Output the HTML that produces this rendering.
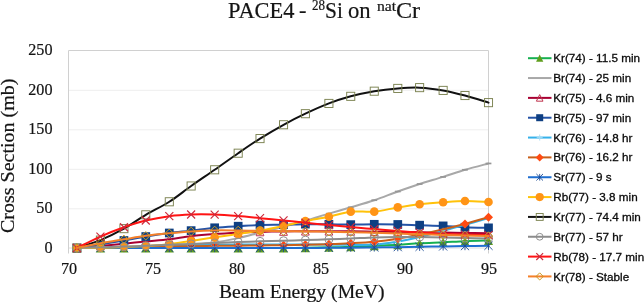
<!DOCTYPE html>
<html><head><meta charset="utf-8"><title>PACE4 - 28Si on natCr</title>
<style>
html,body{margin:0;padding:0;background:#fff;}
body{width:644px;height:305px;overflow:hidden;position:relative;font-family:"Liberation Serif",serif;color:#141414;-webkit-text-stroke:0.2px #141414;}
#c{position:absolute;left:0;top:0;width:644px;height:305px;overflow:hidden;will-change:transform;}
.ts{position:absolute;line-height:26px;height:26px;white-space:nowrap;transform-origin:0 0;}
.yt{position:absolute;left:0;width:52.5px;text-align:right;font-size:17px;line-height:19px;height:19px;transform:scaleX(0.95);transform-origin:100% 50%;}
.xt{position:absolute;top:258.5px;width:40px;text-align:center;font-size:17px;line-height:19px;transform:scaleX(0.95);transform-origin:50% 50%;}
.xl{position:absolute;left:219px;top:282px;font-size:18px;line-height:21px;white-space:nowrap;transform-origin:0 0;transform:scaleX(1.092);}
.yl{position:absolute;left:-2.2px;top:233.1px;font-size:18px;line-height:21px;white-space:nowrap;transform-origin:0 0;transform:rotate(-90deg) scaleX(1.111);}
.lg{position:absolute;left:553.2px;font-family:"Liberation Sans",sans-serif;font-size:11.7px;line-height:15px;white-space:nowrap;color:#0a0a0a;-webkit-text-stroke:0.3px #0a0a0a;transform-origin:0 50%;}
</style></head><body><div id="c">
<svg width="644" height="305" viewBox="0 0 644 305" style="position:absolute;left:0;top:0">
<line x1="68.5" x2="488.5" y1="208.8" y2="208.8" stroke="#eeeeee" stroke-width="1"/>
<line x1="68.5" x2="488.5" y1="169.3" y2="169.3" stroke="#eeeeee" stroke-width="1"/>
<line x1="68.5" x2="488.5" y1="129.8" y2="129.8" stroke="#eeeeee" stroke-width="1"/>
<line x1="68.5" x2="488.5" y1="90.3" y2="90.3" stroke="#eeeeee" stroke-width="1"/>
<line x1="68.5" x2="488.5" y1="248.0" y2="248.0" stroke="#dcdcdc" stroke-width="1"/>
<path d="M68.5,253.5 V50.5 H488.5 V253.5" fill="none" stroke="#d0d0d0" stroke-width="1"/>
<path d="M76.90,248.00 C80.82,248.00 92.58,248.00 100.42,248.00 C108.26,248.00 116.38,248.00 123.94,248.00 C131.50,248.00 138.22,248.00 145.78,248.00 C153.34,248.00 161.74,248.00 169.30,248.00 C176.86,248.00 183.58,248.00 191.14,248.00 C198.70,248.00 206.82,248.00 214.66,248.00 C222.50,248.00 230.62,248.00 238.18,248.00 C245.74,248.00 252.46,248.00 260.02,248.00 C267.58,248.00 275.98,248.04 283.54,248.00 C291.10,247.96 297.82,247.87 305.38,247.76 C312.94,247.66 321.34,247.53 328.90,247.37 C336.46,247.21 343.18,247.07 350.74,246.81 C358.30,246.56 366.42,246.20 374.26,245.87 C382.10,245.54 390.22,245.27 397.78,244.84 C405.34,244.41 412.06,243.69 419.62,243.26 C427.18,242.83 435.58,242.59 443.14,242.23 C450.70,241.88 457.42,241.42 464.98,241.13 C472.54,240.84 484.58,240.60 488.50,240.50" fill="none" stroke="#16b050" stroke-width="2" stroke-linejoin="round" stroke-linecap="round"/>
<path d="M76.90,243.50 L81.40,252.50 L72.40,252.50 Z" fill="#5f9e1e"/>
<path d="M100.42,243.50 L104.92,252.50 L95.92,252.50 Z" fill="#5f9e1e"/>
<path d="M123.94,243.50 L128.44,252.50 L119.44,252.50 Z" fill="#5f9e1e"/>
<path d="M145.78,243.50 L150.28,252.50 L141.28,252.50 Z" fill="#5f9e1e"/>
<path d="M169.30,243.50 L173.80,252.50 L164.80,252.50 Z" fill="#5f9e1e"/>
<path d="M191.14,243.50 L195.64,252.50 L186.64,252.50 Z" fill="#5f9e1e"/>
<path d="M214.66,243.50 L219.16,252.50 L210.16,252.50 Z" fill="#5f9e1e"/>
<path d="M238.18,243.50 L242.68,252.50 L233.68,252.50 Z" fill="#5f9e1e"/>
<path d="M260.02,243.50 L264.52,252.50 L255.52,252.50 Z" fill="#5f9e1e"/>
<path d="M283.54,243.50 L288.04,252.50 L279.04,252.50 Z" fill="#5f9e1e"/>
<path d="M305.38,243.26 L309.88,252.26 L300.88,252.26 Z" fill="#5f9e1e"/>
<path d="M328.90,242.87 L333.40,251.87 L324.40,251.87 Z" fill="#5f9e1e"/>
<path d="M350.74,242.31 L355.24,251.31 L346.24,251.31 Z" fill="#5f9e1e"/>
<path d="M374.26,241.37 L378.76,250.37 L369.76,250.37 Z" fill="#5f9e1e"/>
<path d="M397.78,240.34 L402.28,249.34 L393.28,249.34 Z" fill="#5f9e1e"/>
<path d="M419.62,238.76 L424.12,247.76 L415.12,247.76 Z" fill="#5f9e1e"/>
<path d="M443.14,237.73 L447.64,246.73 L438.64,246.73 Z" fill="#5f9e1e"/>
<path d="M464.98,236.63 L469.48,245.63 L460.48,245.63 Z" fill="#5f9e1e"/>
<path d="M488.50,236.00 L493.00,245.00 L484.00,245.00 Z" fill="#5f9e1e"/>
<path d="M76.90,248.00 C80.82,248.00 92.58,248.00 100.42,248.00 C108.26,248.00 116.38,248.04 123.94,248.00 C131.50,247.96 138.22,247.96 145.78,247.76 C153.34,247.57 161.74,247.24 169.30,246.81 C176.86,246.39 183.58,245.96 191.14,245.24 C198.70,244.51 206.82,243.66 214.66,242.47 C222.50,241.28 230.62,239.77 238.18,238.12 C245.74,236.48 252.46,234.50 260.02,232.59 C267.58,230.69 275.98,228.65 283.54,226.67 C291.10,224.70 297.82,222.92 305.38,220.75 C312.94,218.57 321.34,215.87 328.90,213.63 C336.46,211.40 343.18,209.55 350.74,207.31 C358.30,205.08 366.42,202.84 374.26,200.20 C382.10,197.57 390.22,194.21 397.78,191.51 C405.34,188.82 412.06,186.45 419.62,184.01 C427.18,181.57 435.58,179.27 443.14,176.90 C450.70,174.53 457.42,172.03 464.98,169.79 C472.54,167.55 484.58,164.52 488.50,163.47" fill="none" stroke="#a8a8a8" stroke-width="2" stroke-linejoin="round" stroke-linecap="round"/>
<path d="M74.00,248.00 H79.80" stroke="#969696" stroke-width="1.7" fill="none"/>
<path d="M97.52,248.00 H103.32" stroke="#969696" stroke-width="1.7" fill="none"/>
<path d="M121.04,248.00 H126.84" stroke="#969696" stroke-width="1.7" fill="none"/>
<path d="M142.88,247.76 H148.68" stroke="#969696" stroke-width="1.7" fill="none"/>
<path d="M166.40,246.81 H172.20" stroke="#969696" stroke-width="1.7" fill="none"/>
<path d="M188.24,245.24 H194.04" stroke="#969696" stroke-width="1.7" fill="none"/>
<path d="M211.76,242.47 H217.56" stroke="#969696" stroke-width="1.7" fill="none"/>
<path d="M235.28,238.12 H241.08" stroke="#969696" stroke-width="1.7" fill="none"/>
<path d="M257.12,232.59 H262.92" stroke="#969696" stroke-width="1.7" fill="none"/>
<path d="M280.64,226.67 H286.44" stroke="#969696" stroke-width="1.7" fill="none"/>
<path d="M302.48,220.75 H308.28" stroke="#969696" stroke-width="1.7" fill="none"/>
<path d="M326.00,213.63 H331.80" stroke="#969696" stroke-width="1.7" fill="none"/>
<path d="M347.84,207.31 H353.64" stroke="#969696" stroke-width="1.7" fill="none"/>
<path d="M371.36,200.20 H377.16" stroke="#969696" stroke-width="1.7" fill="none"/>
<path d="M394.88,191.51 H400.68" stroke="#969696" stroke-width="1.7" fill="none"/>
<path d="M416.72,184.01 H422.52" stroke="#969696" stroke-width="1.7" fill="none"/>
<path d="M440.24,176.90 H446.04" stroke="#969696" stroke-width="1.7" fill="none"/>
<path d="M462.08,169.79 H467.88" stroke="#969696" stroke-width="1.7" fill="none"/>
<path d="M485.60,163.47 H491.40" stroke="#969696" stroke-width="1.7" fill="none"/>
<path d="M76.90,248.00 C80.82,247.67 92.58,246.75 100.42,246.03 C108.26,245.30 116.38,244.42 123.94,243.66 C131.50,242.89 138.22,242.19 145.78,241.44 C153.34,240.69 161.74,240.03 169.30,239.15 C176.86,238.27 183.58,236.99 191.14,236.15 C198.70,235.31 206.82,234.66 214.66,234.10 C222.50,233.53 230.62,233.12 238.18,232.75 C245.74,232.38 252.46,232.11 260.02,231.88 C267.58,231.66 275.98,231.53 283.54,231.41 C291.10,231.29 297.82,231.21 305.38,231.17 C312.94,231.13 321.34,231.15 328.90,231.17 C336.46,231.20 343.18,231.25 350.74,231.33 C358.30,231.41 366.42,231.54 374.26,231.65 C382.10,231.75 390.22,231.86 397.78,231.96 C405.34,232.07 412.06,232.17 419.62,232.28 C427.18,232.38 435.58,232.49 443.14,232.59 C450.70,232.70 457.42,232.81 464.98,232.91 C472.54,233.02 484.58,233.17 488.50,233.23" fill="none" stroke="#a80032" stroke-width="2" stroke-linejoin="round" stroke-linecap="round"/>
<path d="M76.90,244.10 L80.80,251.90 L73.00,251.90 Z" fill="none" stroke="#c0344f" stroke-width="1"/>
<path d="M100.42,242.12 L104.32,249.93 L96.52,249.93 Z" fill="none" stroke="#c0344f" stroke-width="1"/>
<path d="M123.94,239.75 L127.84,247.56 L120.04,247.56 Z" fill="none" stroke="#c0344f" stroke-width="1"/>
<path d="M145.78,237.54 L149.68,245.34 L141.88,245.34 Z" fill="none" stroke="#c0344f" stroke-width="1"/>
<path d="M169.30,235.25 L173.20,243.05 L165.40,243.05 Z" fill="none" stroke="#c0344f" stroke-width="1"/>
<path d="M191.14,232.25 L195.04,240.05 L187.24,240.05 Z" fill="none" stroke="#c0344f" stroke-width="1"/>
<path d="M214.66,230.20 L218.56,238.00 L210.76,238.00 Z" fill="none" stroke="#c0344f" stroke-width="1"/>
<path d="M238.18,228.85 L242.08,236.65 L234.28,236.65 Z" fill="none" stroke="#c0344f" stroke-width="1"/>
<path d="M260.02,227.98 L263.92,235.78 L256.12,235.78 Z" fill="none" stroke="#c0344f" stroke-width="1"/>
<path d="M283.54,227.51 L287.44,235.31 L279.64,235.31 Z" fill="none" stroke="#c0344f" stroke-width="1"/>
<path d="M305.38,227.27 L309.28,235.07 L301.48,235.07 Z" fill="none" stroke="#c0344f" stroke-width="1"/>
<path d="M328.90,227.27 L332.80,235.07 L325.00,235.07 Z" fill="none" stroke="#c0344f" stroke-width="1"/>
<path d="M350.74,227.43 L354.64,235.23 L346.84,235.23 Z" fill="none" stroke="#c0344f" stroke-width="1"/>
<path d="M374.26,227.75 L378.16,235.55 L370.36,235.55 Z" fill="none" stroke="#c0344f" stroke-width="1"/>
<path d="M397.78,228.06 L401.68,235.86 L393.88,235.86 Z" fill="none" stroke="#c0344f" stroke-width="1"/>
<path d="M419.62,228.38 L423.52,236.18 L415.72,236.18 Z" fill="none" stroke="#c0344f" stroke-width="1"/>
<path d="M443.14,228.69 L447.04,236.50 L439.24,236.50 Z" fill="none" stroke="#c0344f" stroke-width="1"/>
<path d="M464.98,229.01 L468.88,236.81 L461.08,236.81 Z" fill="none" stroke="#c0344f" stroke-width="1"/>
<path d="M488.50,229.33 L492.40,237.13 L484.60,237.13 Z" fill="none" stroke="#c0344f" stroke-width="1"/>
<path d="M76.90,248.00 C80.82,247.41 92.58,245.70 100.42,244.44 C108.26,243.19 116.38,241.81 123.94,240.50 C131.50,239.18 138.22,237.80 145.78,236.54 C153.34,235.29 161.74,233.98 169.30,232.99 C176.86,232.00 183.58,231.49 191.14,230.62 C198.70,229.75 206.82,228.51 214.66,227.78 C222.50,227.04 230.62,226.64 238.18,226.20 C245.74,225.75 252.46,225.34 260.02,225.09 C267.58,224.84 275.98,224.85 283.54,224.69 C291.10,224.54 297.82,224.21 305.38,224.14 C312.94,224.08 321.34,224.22 328.90,224.30 C336.46,224.38 343.18,224.62 350.74,224.62 C358.30,224.62 366.42,224.33 374.26,224.30 C382.10,224.27 390.22,224.31 397.78,224.46 C405.34,224.60 412.06,224.93 419.62,225.17 C427.18,225.41 435.58,225.54 443.14,225.88 C450.70,226.22 457.42,226.89 464.98,227.22 C472.54,227.55 484.58,227.75 488.50,227.85" fill="none" stroke="#2453a6" stroke-width="2" stroke-linejoin="round" stroke-linecap="round"/>
<rect x="72.55" y="243.65" width="8.70" height="8.70" fill="#0e3f82"/>
<rect x="96.07" y="240.09" width="8.70" height="8.70" fill="#0e3f82"/>
<rect x="119.59" y="236.15" width="8.70" height="8.70" fill="#0e3f82"/>
<rect x="141.43" y="232.19" width="8.70" height="8.70" fill="#0e3f82"/>
<rect x="164.95" y="228.64" width="8.70" height="8.70" fill="#0e3f82"/>
<rect x="186.79" y="226.27" width="8.70" height="8.70" fill="#0e3f82"/>
<rect x="210.31" y="223.43" width="8.70" height="8.70" fill="#0e3f82"/>
<rect x="233.83" y="221.85" width="8.70" height="8.70" fill="#0e3f82"/>
<rect x="255.67" y="220.74" width="8.70" height="8.70" fill="#0e3f82"/>
<rect x="279.19" y="220.34" width="8.70" height="8.70" fill="#0e3f82"/>
<rect x="301.03" y="219.79" width="8.70" height="8.70" fill="#0e3f82"/>
<rect x="324.55" y="219.95" width="8.70" height="8.70" fill="#0e3f82"/>
<rect x="346.39" y="220.27" width="8.70" height="8.70" fill="#0e3f82"/>
<rect x="369.91" y="219.95" width="8.70" height="8.70" fill="#0e3f82"/>
<rect x="393.43" y="220.11" width="8.70" height="8.70" fill="#0e3f82"/>
<rect x="415.27" y="220.82" width="8.70" height="8.70" fill="#0e3f82"/>
<rect x="438.79" y="221.53" width="8.70" height="8.70" fill="#0e3f82"/>
<rect x="460.63" y="222.87" width="8.70" height="8.70" fill="#0e3f82"/>
<rect x="484.15" y="223.50" width="8.70" height="8.70" fill="#0e3f82"/>
<path d="M76.90,248.00 C80.82,247.93 92.58,247.76 100.42,247.60 C108.26,247.45 116.38,247.25 123.94,247.05 C131.50,246.85 138.22,246.63 145.78,246.42 C153.34,246.21 161.74,245.99 169.30,245.79 C176.86,245.59 183.58,245.39 191.14,245.24 C198.70,245.08 206.82,244.95 214.66,244.84 C222.50,244.73 230.62,244.67 238.18,244.60 C245.74,244.54 252.46,244.47 260.02,244.44 C267.58,244.42 275.98,244.44 283.54,244.44 C291.10,244.44 297.82,244.42 305.38,244.44 C312.94,244.47 321.34,244.54 328.90,244.60 C336.46,244.67 343.18,244.84 350.74,244.84 C358.30,244.84 366.42,245.17 374.26,244.60 C382.10,244.04 390.22,242.72 397.78,241.44 C405.34,240.17 412.06,238.68 419.62,236.94 C427.18,235.20 435.58,233.03 443.14,231.01 C450.70,229.00 457.42,227.00 464.98,224.85 C472.54,222.71 484.58,219.26 488.50,218.14" fill="none" stroke="#35b1ea" stroke-width="2" stroke-linejoin="round" stroke-linecap="round"/>
<path d="M73.70,248.00 H80.10 M76.90,244.80 V251.20" stroke="#a8dcf5" stroke-width="0.9" fill="none"/>
<path d="M97.22,247.60 H103.62 M100.42,244.41 V250.80" stroke="#a8dcf5" stroke-width="0.9" fill="none"/>
<path d="M120.74,247.05 H127.14 M123.94,243.85 V250.25" stroke="#a8dcf5" stroke-width="0.9" fill="none"/>
<path d="M142.58,246.42 H148.98 M145.78,243.22 V249.62" stroke="#a8dcf5" stroke-width="0.9" fill="none"/>
<path d="M166.10,245.79 H172.50 M169.30,242.59 V248.99" stroke="#a8dcf5" stroke-width="0.9" fill="none"/>
<path d="M187.94,245.24 H194.34 M191.14,242.04 V248.44" stroke="#a8dcf5" stroke-width="0.9" fill="none"/>
<path d="M211.46,244.84 H217.86 M214.66,241.64 V248.04" stroke="#a8dcf5" stroke-width="0.9" fill="none"/>
<path d="M234.98,244.60 H241.38 M238.18,241.40 V247.80" stroke="#a8dcf5" stroke-width="0.9" fill="none"/>
<path d="M256.82,244.44 H263.22 M260.02,241.25 V247.64" stroke="#a8dcf5" stroke-width="0.9" fill="none"/>
<path d="M280.34,244.44 H286.74 M283.54,241.25 V247.64" stroke="#a8dcf5" stroke-width="0.9" fill="none"/>
<path d="M302.18,244.44 H308.58 M305.38,241.25 V247.64" stroke="#a8dcf5" stroke-width="0.9" fill="none"/>
<path d="M325.70,244.60 H332.10 M328.90,241.40 V247.80" stroke="#a8dcf5" stroke-width="0.9" fill="none"/>
<path d="M347.54,244.84 H353.94 M350.74,241.64 V248.04" stroke="#a8dcf5" stroke-width="0.9" fill="none"/>
<path d="M371.06,244.60 H377.46 M374.26,241.40 V247.80" stroke="#a8dcf5" stroke-width="0.9" fill="none"/>
<path d="M394.58,241.44 H400.98 M397.78,238.24 V244.64" stroke="#a8dcf5" stroke-width="0.9" fill="none"/>
<path d="M416.42,236.94 H422.82 M419.62,233.74 V240.14" stroke="#a8dcf5" stroke-width="0.9" fill="none"/>
<path d="M439.94,231.01 H446.34 M443.14,227.81 V234.21" stroke="#a8dcf5" stroke-width="0.9" fill="none"/>
<path d="M461.78,224.85 H468.18 M464.98,221.65 V228.05" stroke="#a8dcf5" stroke-width="0.9" fill="none"/>
<path d="M485.30,218.14 H491.70 M488.50,214.94 V221.34" stroke="#a8dcf5" stroke-width="0.9" fill="none"/>
<path d="M76.90,248.00 C80.82,247.95 92.58,247.80 100.42,247.68 C108.26,247.57 116.38,247.42 123.94,247.29 C131.50,247.16 138.22,247.03 145.78,246.89 C153.34,246.76 161.74,246.62 169.30,246.50 C176.86,246.38 183.58,246.29 191.14,246.18 C198.70,246.08 206.82,245.96 214.66,245.87 C222.50,245.77 230.62,245.70 238.18,245.63 C245.74,245.56 252.46,245.54 260.02,245.47 C267.58,245.41 275.98,245.34 283.54,245.24 C291.10,245.13 297.82,245.01 305.38,244.84 C312.94,244.67 321.34,244.47 328.90,244.21 C336.46,243.94 343.18,243.68 350.74,243.26 C358.30,242.84 366.42,242.44 374.26,241.68 C382.10,240.92 390.22,239.86 397.78,238.68 C405.34,237.49 412.06,236.15 419.62,234.57 C427.18,232.99 435.58,230.98 443.14,229.20 C450.70,227.42 457.42,225.91 464.98,223.91 C472.54,221.90 484.58,218.31 488.50,217.19" fill="none" stroke="#c9601a" stroke-width="2" stroke-linejoin="round" stroke-linecap="round"/>
<path d="M76.90,243.50 L81.40,248.00 L76.90,252.50 L72.40,248.00 Z" fill="#ff4a12"/>
<path d="M100.42,243.18 L104.92,247.68 L100.42,252.18 L95.92,247.68 Z" fill="#ff4a12"/>
<path d="M123.94,242.79 L128.44,247.29 L123.94,251.79 L119.44,247.29 Z" fill="#ff4a12"/>
<path d="M145.78,242.39 L150.28,246.89 L145.78,251.39 L141.28,246.89 Z" fill="#ff4a12"/>
<path d="M169.30,242.00 L173.80,246.50 L169.30,251.00 L164.80,246.50 Z" fill="#ff4a12"/>
<path d="M191.14,241.68 L195.64,246.18 L191.14,250.68 L186.64,246.18 Z" fill="#ff4a12"/>
<path d="M214.66,241.37 L219.16,245.87 L214.66,250.37 L210.16,245.87 Z" fill="#ff4a12"/>
<path d="M238.18,241.13 L242.68,245.63 L238.18,250.13 L233.68,245.63 Z" fill="#ff4a12"/>
<path d="M260.02,240.97 L264.52,245.47 L260.02,249.97 L255.52,245.47 Z" fill="#ff4a12"/>
<path d="M283.54,240.74 L288.04,245.24 L283.54,249.74 L279.04,245.24 Z" fill="#ff4a12"/>
<path d="M305.38,240.34 L309.88,244.84 L305.38,249.34 L300.88,244.84 Z" fill="#ff4a12"/>
<path d="M328.90,239.71 L333.40,244.21 L328.90,248.71 L324.40,244.21 Z" fill="#ff4a12"/>
<path d="M350.74,238.76 L355.24,243.26 L350.74,247.76 L346.24,243.26 Z" fill="#ff4a12"/>
<path d="M374.26,237.18 L378.76,241.68 L374.26,246.18 L369.76,241.68 Z" fill="#ff4a12"/>
<path d="M397.78,234.18 L402.28,238.68 L397.78,243.18 L393.28,238.68 Z" fill="#ff4a12"/>
<path d="M419.62,230.07 L424.12,234.57 L419.62,239.07 L415.12,234.57 Z" fill="#ff4a12"/>
<path d="M464.98,219.41 L469.48,223.91 L464.98,228.41 L460.48,223.91 Z" fill="#ff4a12"/>
<path d="M488.50,212.69 L493.00,217.19 L488.50,221.69 L484.00,217.19 Z" fill="#ff4a12"/>
<path d="M76.90,248.00 C80.82,248.00 92.58,248.00 100.42,248.00 C108.26,248.00 116.38,248.00 123.94,248.00 C131.50,248.00 138.22,248.00 145.78,248.00 C153.34,248.00 161.74,248.00 169.30,248.00 C176.86,248.00 183.58,248.00 191.14,248.00 C198.70,248.00 206.82,248.00 214.66,248.00 C222.50,248.00 230.62,248.00 238.18,248.00 C245.74,248.00 252.46,248.00 260.02,248.00 C267.58,248.00 275.98,248.00 283.54,248.00 C291.10,248.00 297.82,248.03 305.38,248.00 C312.94,247.97 321.34,247.89 328.90,247.84 C336.46,247.79 343.18,247.75 350.74,247.68 C358.30,247.62 366.42,247.54 374.26,247.45 C382.10,247.35 390.22,247.24 397.78,247.13 C405.34,247.03 412.06,246.93 419.62,246.81 C427.18,246.70 435.58,246.54 443.14,246.42 C450.70,246.30 457.42,246.21 464.98,246.10 C472.54,246.00 484.58,245.84 488.50,245.79" fill="none" stroke="#1f6ed0" stroke-width="2" stroke-linejoin="round" stroke-linecap="round"/>
<path d="M72.80,243.90 L81.00,252.10 M72.80,252.10 L81.00,243.90 M76.90,243.90 V252.10" stroke="#1b4a94" stroke-width="0.9" fill="none"/>
<path d="M96.32,243.90 L104.52,252.10 M96.32,252.10 L104.52,243.90 M100.42,243.90 V252.10" stroke="#1b4a94" stroke-width="0.9" fill="none"/>
<path d="M119.84,243.90 L128.04,252.10 M119.84,252.10 L128.04,243.90 M123.94,243.90 V252.10" stroke="#1b4a94" stroke-width="0.9" fill="none"/>
<path d="M141.68,243.90 L149.88,252.10 M141.68,252.10 L149.88,243.90 M145.78,243.90 V252.10" stroke="#1b4a94" stroke-width="0.9" fill="none"/>
<path d="M165.20,243.90 L173.40,252.10 M165.20,252.10 L173.40,243.90 M169.30,243.90 V252.10" stroke="#1b4a94" stroke-width="0.9" fill="none"/>
<path d="M187.04,243.90 L195.24,252.10 M187.04,252.10 L195.24,243.90 M191.14,243.90 V252.10" stroke="#1b4a94" stroke-width="0.9" fill="none"/>
<path d="M210.56,243.90 L218.76,252.10 M210.56,252.10 L218.76,243.90 M214.66,243.90 V252.10" stroke="#1b4a94" stroke-width="0.9" fill="none"/>
<path d="M234.08,243.90 L242.28,252.10 M234.08,252.10 L242.28,243.90 M238.18,243.90 V252.10" stroke="#1b4a94" stroke-width="0.9" fill="none"/>
<path d="M255.92,243.90 L264.12,252.10 M255.92,252.10 L264.12,243.90 M260.02,243.90 V252.10" stroke="#1b4a94" stroke-width="0.9" fill="none"/>
<path d="M279.44,243.90 L287.64,252.10 M279.44,252.10 L287.64,243.90 M283.54,243.90 V252.10" stroke="#1b4a94" stroke-width="0.9" fill="none"/>
<path d="M301.28,243.90 L309.48,252.10 M301.28,252.10 L309.48,243.90 M305.38,243.90 V252.10" stroke="#1b4a94" stroke-width="0.9" fill="none"/>
<path d="M324.80,243.74 L333.00,251.94 M324.80,251.94 L333.00,243.74 M328.90,243.74 V251.94" stroke="#1b4a94" stroke-width="0.9" fill="none"/>
<path d="M346.64,243.58 L354.84,251.78 M346.64,251.78 L354.84,243.58 M350.74,243.58 V251.78" stroke="#1b4a94" stroke-width="0.9" fill="none"/>
<path d="M370.16,243.35 L378.36,251.55 M370.16,251.55 L378.36,243.35 M374.26,243.35 V251.55" stroke="#1b4a94" stroke-width="0.9" fill="none"/>
<path d="M393.68,243.03 L401.88,251.23 M393.68,251.23 L401.88,243.03 M397.78,243.03 V251.23" stroke="#1b4a94" stroke-width="0.9" fill="none"/>
<path d="M415.52,242.72 L423.72,250.91 M415.52,250.91 L423.72,242.72 M419.62,242.72 V250.91" stroke="#1b4a94" stroke-width="0.9" fill="none"/>
<path d="M439.04,242.32 L447.24,250.52 M439.04,250.52 L447.24,242.32 M443.14,242.32 V250.52" stroke="#1b4a94" stroke-width="0.9" fill="none"/>
<path d="M460.88,242.00 L469.08,250.20 M460.88,250.20 L469.08,242.00 M464.98,242.00 V250.20" stroke="#1b4a94" stroke-width="0.9" fill="none"/>
<path d="M484.40,241.69 L492.60,249.89 M484.40,249.89 L492.60,241.69 M488.50,241.69 V249.89" stroke="#1b4a94" stroke-width="0.9" fill="none"/>
<path d="M76.90,248.00 C80.82,247.96 92.58,247.92 100.42,247.76 C108.26,247.61 116.38,247.35 123.94,247.05 C131.50,246.75 138.22,246.42 145.78,245.95 C153.34,245.47 161.74,245.05 169.30,244.21 C176.86,243.37 183.58,242.04 191.14,240.89 C198.70,239.74 206.82,238.49 214.66,237.34 C222.50,236.18 230.62,235.06 238.18,233.94 C245.74,232.82 252.46,231.96 260.02,230.62 C267.58,229.28 275.98,227.49 283.54,225.88 C291.10,224.27 297.82,222.50 305.38,220.98 C312.94,219.47 321.34,218.35 328.90,216.80 C336.46,215.24 343.18,212.52 350.74,211.66 C358.30,210.80 366.42,212.37 374.26,211.66 C382.10,210.95 390.22,208.63 397.78,207.39 C405.34,206.16 412.06,205.10 419.62,204.23 C427.18,203.37 435.58,202.72 443.14,202.18 C450.70,201.64 457.42,201.02 464.98,201.00 C472.54,200.97 484.58,201.85 488.50,202.02" fill="none" stroke="#ffc20a" stroke-width="2" stroke-linejoin="round" stroke-linecap="round"/>
<circle cx="76.90" cy="248.00" r="4.30" fill="#ff9416"/>
<circle cx="100.42" cy="247.76" r="4.30" fill="#ff9416"/>
<circle cx="123.94" cy="247.05" r="4.30" fill="#ff9416"/>
<circle cx="145.78" cy="245.95" r="4.30" fill="#ff9416"/>
<circle cx="169.30" cy="244.21" r="4.30" fill="#ff9416"/>
<circle cx="191.14" cy="240.89" r="4.30" fill="#ff9416"/>
<circle cx="214.66" cy="237.34" r="4.30" fill="#ff9416"/>
<circle cx="238.18" cy="233.94" r="4.30" fill="#ff9416"/>
<circle cx="260.02" cy="230.62" r="4.30" fill="#ff9416"/>
<circle cx="283.54" cy="225.88" r="4.30" fill="#ff9416"/>
<circle cx="305.38" cy="220.98" r="4.30" fill="#ff9416"/>
<circle cx="328.90" cy="216.80" r="4.30" fill="#ff9416"/>
<circle cx="350.74" cy="211.66" r="4.30" fill="#ff9416"/>
<circle cx="374.26" cy="211.66" r="4.30" fill="#ff9416"/>
<circle cx="397.78" cy="207.39" r="4.30" fill="#ff9416"/>
<circle cx="419.62" cy="204.23" r="4.30" fill="#ff9416"/>
<circle cx="443.14" cy="202.18" r="4.30" fill="#ff9416"/>
<circle cx="464.98" cy="201.00" r="4.30" fill="#ff9416"/>
<circle cx="488.50" cy="202.02" r="4.30" fill="#ff9416"/>
<path d="M76.90,248.00 C80.82,246.68 92.58,243.33 100.42,240.10 C108.26,236.87 116.38,232.86 123.94,228.65 C131.50,224.43 138.22,219.30 145.78,214.82 C153.34,210.34 161.74,206.59 169.30,201.78 C176.86,196.98 183.58,191.32 191.14,185.99 C198.70,180.65 206.82,175.25 214.66,169.79 C222.50,164.33 230.62,158.40 238.18,153.20 C245.74,148.00 252.46,143.32 260.02,138.58 C267.58,133.84 275.98,128.91 283.54,124.76 C291.10,120.61 297.82,117.25 305.38,113.70 C312.94,110.14 321.34,106.33 328.90,103.43 C336.46,100.53 343.18,98.36 350.74,96.32 C358.30,94.28 366.42,92.50 374.26,91.19 C382.10,89.87 390.22,89.01 397.78,88.42 C405.34,87.83 412.06,87.30 419.62,87.63 C427.18,87.96 435.58,89.08 443.14,90.40 C450.70,91.71 457.42,93.49 464.98,95.53 C472.54,97.57 484.58,101.45 488.50,102.64" fill="none" stroke="#111111" stroke-width="2" stroke-linejoin="round" stroke-linecap="round"/>
<rect x="72.85" y="243.95" width="8.10" height="8.10" fill="none" stroke="#7b8250" stroke-width="0.95"/>
<rect x="96.37" y="236.05" width="8.10" height="8.10" fill="none" stroke="#7b8250" stroke-width="0.95"/>
<rect x="119.89" y="224.59" width="8.10" height="8.10" fill="none" stroke="#7b8250" stroke-width="0.95"/>
<rect x="141.73" y="210.77" width="8.10" height="8.10" fill="none" stroke="#7b8250" stroke-width="0.95"/>
<rect x="165.25" y="197.73" width="8.10" height="8.10" fill="none" stroke="#7b8250" stroke-width="0.95"/>
<rect x="187.09" y="181.94" width="8.10" height="8.10" fill="none" stroke="#7b8250" stroke-width="0.95"/>
<rect x="210.61" y="165.74" width="8.10" height="8.10" fill="none" stroke="#7b8250" stroke-width="0.95"/>
<rect x="234.13" y="149.15" width="8.10" height="8.10" fill="none" stroke="#7b8250" stroke-width="0.95"/>
<rect x="255.97" y="134.53" width="8.10" height="8.10" fill="none" stroke="#7b8250" stroke-width="0.95"/>
<rect x="279.49" y="120.71" width="8.10" height="8.10" fill="none" stroke="#7b8250" stroke-width="0.95"/>
<rect x="301.33" y="109.65" width="8.10" height="8.10" fill="none" stroke="#7b8250" stroke-width="0.95"/>
<rect x="324.85" y="99.38" width="8.10" height="8.10" fill="none" stroke="#7b8250" stroke-width="0.95"/>
<rect x="346.69" y="92.27" width="8.10" height="8.10" fill="none" stroke="#7b8250" stroke-width="0.95"/>
<rect x="370.21" y="87.14" width="8.10" height="8.10" fill="none" stroke="#7b8250" stroke-width="0.95"/>
<rect x="393.73" y="84.37" width="8.10" height="8.10" fill="none" stroke="#7b8250" stroke-width="0.95"/>
<rect x="415.57" y="83.58" width="8.10" height="8.10" fill="none" stroke="#7b8250" stroke-width="0.95"/>
<rect x="439.09" y="86.35" width="8.10" height="8.10" fill="none" stroke="#7b8250" stroke-width="0.95"/>
<rect x="460.93" y="91.48" width="8.10" height="8.10" fill="none" stroke="#7b8250" stroke-width="0.95"/>
<rect x="484.45" y="98.59" width="8.10" height="8.10" fill="none" stroke="#7b8250" stroke-width="0.95"/>
<path d="M76.90,248.00 C80.82,247.89 92.58,247.60 100.42,247.37 C108.26,247.13 116.38,246.84 123.94,246.58 C131.50,246.31 138.22,246.08 145.78,245.79 C153.34,245.50 161.74,245.16 169.30,244.84 C176.86,244.52 183.58,244.21 191.14,243.89 C198.70,243.58 206.82,243.25 214.66,242.94 C222.50,242.64 230.62,242.34 238.18,242.07 C245.74,241.81 252.46,241.59 260.02,241.36 C267.58,241.14 275.98,240.94 283.54,240.73 C291.10,240.52 297.82,240.34 305.38,240.10 C312.94,239.86 321.34,239.57 328.90,239.31 C336.46,239.05 343.18,238.82 350.74,238.52 C358.30,238.22 366.42,237.73 374.26,237.49 C382.10,237.26 390.22,237.16 397.78,237.10 C405.34,237.03 412.06,237.03 419.62,237.10 C427.18,237.16 435.58,237.34 443.14,237.49 C450.70,237.65 457.42,237.87 464.98,238.05 C472.54,238.22 484.58,238.44 488.50,238.52" fill="none" stroke="#8c8c8c" stroke-width="2" stroke-linejoin="round" stroke-linecap="round"/>
<circle cx="76.90" cy="248.00" r="4.00" fill="none" stroke="#909090" stroke-width="1"/>
<circle cx="100.42" cy="247.37" r="4.00" fill="none" stroke="#909090" stroke-width="1"/>
<circle cx="123.94" cy="246.58" r="4.00" fill="none" stroke="#909090" stroke-width="1"/>
<circle cx="145.78" cy="245.79" r="4.00" fill="none" stroke="#909090" stroke-width="1"/>
<circle cx="169.30" cy="244.84" r="4.00" fill="none" stroke="#909090" stroke-width="1"/>
<circle cx="191.14" cy="243.89" r="4.00" fill="none" stroke="#909090" stroke-width="1"/>
<circle cx="214.66" cy="242.94" r="4.00" fill="none" stroke="#909090" stroke-width="1"/>
<circle cx="238.18" cy="242.07" r="4.00" fill="none" stroke="#909090" stroke-width="1"/>
<circle cx="260.02" cy="241.36" r="4.00" fill="none" stroke="#909090" stroke-width="1"/>
<circle cx="283.54" cy="240.73" r="4.00" fill="none" stroke="#909090" stroke-width="1"/>
<circle cx="305.38" cy="240.10" r="4.00" fill="none" stroke="#909090" stroke-width="1"/>
<circle cx="328.90" cy="239.31" r="4.00" fill="none" stroke="#909090" stroke-width="1"/>
<circle cx="350.74" cy="238.52" r="4.00" fill="none" stroke="#909090" stroke-width="1"/>
<circle cx="374.26" cy="237.49" r="4.00" fill="none" stroke="#909090" stroke-width="1"/>
<circle cx="397.78" cy="237.10" r="4.00" fill="none" stroke="#909090" stroke-width="1"/>
<circle cx="419.62" cy="237.10" r="4.00" fill="none" stroke="#909090" stroke-width="1"/>
<circle cx="443.14" cy="237.49" r="4.00" fill="none" stroke="#909090" stroke-width="1"/>
<circle cx="464.98" cy="238.05" r="4.00" fill="none" stroke="#909090" stroke-width="1"/>
<circle cx="488.50" cy="238.52" r="4.00" fill="none" stroke="#909090" stroke-width="1"/>
<path d="M76.90,248.00 C80.82,246.09 92.58,240.01 100.42,236.54 C108.26,233.08 116.38,229.90 123.94,227.22 C131.50,224.55 138.22,222.35 145.78,220.51 C153.34,218.66 161.74,217.16 169.30,216.16 C176.86,215.16 183.58,214.77 191.14,214.50 C198.70,214.24 206.82,214.32 214.66,214.58 C222.50,214.85 230.62,215.49 238.18,216.08 C245.74,216.68 252.46,217.41 260.02,218.14 C267.58,218.86 275.98,219.67 283.54,220.43 C291.10,221.19 297.82,221.94 305.38,222.72 C312.94,223.50 321.34,224.37 328.90,225.09 C336.46,225.81 343.18,226.41 350.74,227.06 C358.30,227.72 366.42,228.38 374.26,229.04 C382.10,229.70 390.22,230.42 397.78,231.01 C405.34,231.61 412.06,232.13 419.62,232.59 C427.18,233.06 435.58,233.45 443.14,233.78 C450.70,234.11 457.42,234.35 464.98,234.57 C472.54,234.79 484.58,235.03 488.50,235.12" fill="none" stroke="#ff1414" stroke-width="2" stroke-linejoin="round" stroke-linecap="round"/>
<path d="M72.90,244.00 L80.90,252.00 M72.90,252.00 L80.90,244.00" stroke="#cc2a3c" stroke-width="1.15" fill="none"/>
<path d="M96.42,232.54 L104.42,240.54 M96.42,240.54 L104.42,232.54" stroke="#cc2a3c" stroke-width="1.15" fill="none"/>
<path d="M119.94,223.22 L127.94,231.22 M119.94,231.22 L127.94,223.22" stroke="#cc2a3c" stroke-width="1.15" fill="none"/>
<path d="M141.78,216.51 L149.78,224.51 M141.78,224.51 L149.78,216.51" stroke="#cc2a3c" stroke-width="1.15" fill="none"/>
<path d="M165.30,212.16 L173.30,220.16 M165.30,220.16 L173.30,212.16" stroke="#cc2a3c" stroke-width="1.15" fill="none"/>
<path d="M187.14,210.50 L195.14,218.50 M187.14,218.50 L195.14,210.50" stroke="#cc2a3c" stroke-width="1.15" fill="none"/>
<path d="M210.66,210.58 L218.66,218.58 M210.66,218.58 L218.66,210.58" stroke="#cc2a3c" stroke-width="1.15" fill="none"/>
<path d="M234.18,212.08 L242.18,220.08 M234.18,220.08 L242.18,212.08" stroke="#cc2a3c" stroke-width="1.15" fill="none"/>
<path d="M256.02,214.14 L264.02,222.14 M256.02,222.14 L264.02,214.14" stroke="#cc2a3c" stroke-width="1.15" fill="none"/>
<path d="M279.54,216.43 L287.54,224.43 M279.54,224.43 L287.54,216.43" stroke="#cc2a3c" stroke-width="1.15" fill="none"/>
<path d="M301.38,218.72 L309.38,226.72 M301.38,226.72 L309.38,218.72" stroke="#cc2a3c" stroke-width="1.15" fill="none"/>
<path d="M324.90,221.09 L332.90,229.09 M324.90,229.09 L332.90,221.09" stroke="#cc2a3c" stroke-width="1.15" fill="none"/>
<path d="M346.74,223.06 L354.74,231.06 M346.74,231.06 L354.74,223.06" stroke="#cc2a3c" stroke-width="1.15" fill="none"/>
<path d="M370.26,225.04 L378.26,233.04 M370.26,233.04 L378.26,225.04" stroke="#cc2a3c" stroke-width="1.15" fill="none"/>
<path d="M393.78,227.01 L401.78,235.01 M393.78,235.01 L401.78,227.01" stroke="#cc2a3c" stroke-width="1.15" fill="none"/>
<path d="M415.62,228.59 L423.62,236.59 M415.62,236.59 L423.62,228.59" stroke="#cc2a3c" stroke-width="1.15" fill="none"/>
<path d="M439.14,229.78 L447.14,237.78 M439.14,237.78 L447.14,229.78" stroke="#cc2a3c" stroke-width="1.15" fill="none"/>
<path d="M460.98,230.57 L468.98,238.57 M460.98,238.57 L468.98,230.57" stroke="#cc2a3c" stroke-width="1.15" fill="none"/>
<path d="M484.50,231.12 L492.50,239.12 M484.50,239.12 L492.50,231.12" stroke="#cc2a3c" stroke-width="1.15" fill="none"/>
<path d="M76.90,248.00 C80.82,247.21 92.58,244.71 100.42,243.26 C108.26,241.81 116.38,240.56 123.94,239.31 C131.50,238.06 138.22,236.77 145.78,235.75 C153.34,234.74 161.74,233.95 169.30,233.23 C176.86,232.50 183.58,231.88 191.14,231.41 C198.70,230.94 206.82,230.54 214.66,230.38 C222.50,230.23 230.62,230.38 238.18,230.46 C245.74,230.54 252.46,230.74 260.02,230.86 C267.58,230.98 275.98,231.08 283.54,231.17 C291.10,231.27 297.82,231.30 305.38,231.41 C312.94,231.52 321.34,231.67 328.90,231.81 C336.46,231.94 343.18,232.03 350.74,232.20 C358.30,232.37 366.42,232.61 374.26,232.83 C382.10,233.06 390.22,233.31 397.78,233.54 C405.34,233.78 412.06,234.02 419.62,234.25 C427.18,234.49 435.58,234.75 443.14,234.97 C450.70,235.18 457.42,235.35 464.98,235.52 C472.54,235.69 484.58,235.91 488.50,235.99" fill="none" stroke="#f5802a" stroke-width="2" stroke-linejoin="round" stroke-linecap="round"/>
<path d="M76.90,243.80 L81.10,248.00 L76.90,252.20 L72.70,248.00 Z" fill="none" stroke="#c99a22" stroke-width="1"/>
<path d="M100.42,239.06 L104.62,243.26 L100.42,247.46 L96.22,243.26 Z" fill="none" stroke="#c99a22" stroke-width="1"/>
<path d="M123.94,235.11 L128.14,239.31 L123.94,243.51 L119.74,239.31 Z" fill="none" stroke="#c99a22" stroke-width="1"/>
<path d="M145.78,231.56 L149.98,235.75 L145.78,239.95 L141.58,235.75 Z" fill="none" stroke="#c99a22" stroke-width="1"/>
<path d="M169.30,229.03 L173.50,233.23 L169.30,237.43 L165.10,233.23 Z" fill="none" stroke="#c99a22" stroke-width="1"/>
<path d="M191.14,227.21 L195.34,231.41 L191.14,235.61 L186.94,231.41 Z" fill="none" stroke="#c99a22" stroke-width="1"/>
<path d="M214.66,226.18 L218.86,230.38 L214.66,234.58 L210.46,230.38 Z" fill="none" stroke="#c99a22" stroke-width="1"/>
<path d="M238.18,226.26 L242.38,230.46 L238.18,234.66 L233.98,230.46 Z" fill="none" stroke="#c99a22" stroke-width="1"/>
<path d="M260.02,226.66 L264.22,230.86 L260.02,235.06 L255.82,230.86 Z" fill="none" stroke="#c99a22" stroke-width="1"/>
<path d="M283.54,226.97 L287.74,231.17 L283.54,235.37 L279.34,231.17 Z" fill="none" stroke="#c99a22" stroke-width="1"/>
<path d="M305.38,227.21 L309.58,231.41 L305.38,235.61 L301.18,231.41 Z" fill="none" stroke="#c99a22" stroke-width="1"/>
<path d="M328.90,227.61 L333.10,231.81 L328.90,236.00 L324.70,231.81 Z" fill="none" stroke="#c99a22" stroke-width="1"/>
<path d="M350.74,228.00 L354.94,232.20 L350.74,236.40 L346.54,232.20 Z" fill="none" stroke="#c99a22" stroke-width="1"/>
<path d="M374.26,228.63 L378.46,232.83 L374.26,237.03 L370.06,232.83 Z" fill="none" stroke="#c99a22" stroke-width="1"/>
<path d="M397.78,229.34 L401.98,233.54 L397.78,237.74 L393.58,233.54 Z" fill="none" stroke="#c99a22" stroke-width="1"/>
<path d="M419.62,230.05 L423.82,234.25 L419.62,238.45 L415.42,234.25 Z" fill="none" stroke="#c99a22" stroke-width="1"/>
<path d="M443.14,230.77 L447.34,234.97 L443.14,239.16 L438.94,234.97 Z" fill="none" stroke="#c99a22" stroke-width="1"/>
<path d="M464.98,231.32 L469.18,235.52 L464.98,239.72 L460.78,235.52 Z" fill="none" stroke="#c99a22" stroke-width="1"/>
<path d="M488.50,231.79 L492.70,235.99 L488.50,240.19 L484.30,235.99 Z" fill="none" stroke="#c99a22" stroke-width="1"/>
<line x1="528" x2="551.5" y1="58.20" y2="58.20" stroke="#16b050" stroke-width="2"/>
<path d="M539.70,54.55 L543.35,61.85 L536.05,61.85 Z" fill="#5f9e1e"/>
<line x1="528" x2="551.5" y1="78.04" y2="78.04" stroke="#a8a8a8" stroke-width="2"/>
<line x1="528" x2="551.5" y1="97.88" y2="97.88" stroke="#a80032" stroke-width="2"/>
<path d="M539.70,94.58 L543.00,101.18 L536.40,101.18 Z" fill="none" stroke="#c0344f" stroke-width="1"/>
<line x1="528" x2="551.5" y1="117.72" y2="117.72" stroke="#2453a6" stroke-width="2"/>
<rect x="536.20" y="114.22" width="7.00" height="7.00" fill="#0e3f82"/>
<line x1="528" x2="551.5" y1="137.56" y2="137.56" stroke="#35b1ea" stroke-width="2"/>
<path d="M536.70,137.56 H542.70 M539.70,134.56 V140.56" stroke="#a8dcf5" stroke-width="0.9" fill="none"/>
<line x1="528" x2="551.5" y1="157.40" y2="157.40" stroke="#c9601a" stroke-width="2"/>
<path d="M539.70,153.40 L543.70,157.40 L539.70,161.40 L535.70,157.40 Z" fill="#ff4a12"/>
<line x1="528" x2="551.5" y1="177.24" y2="177.24" stroke="#1f6ed0" stroke-width="2"/>
<path d="M536.40,173.94 L543.00,180.54 M536.40,180.54 L543.00,173.94 M539.70,173.94 V180.54" stroke="#1b4a94" stroke-width="0.9" fill="none"/>
<line x1="528" x2="551.5" y1="197.08" y2="197.08" stroke="#ffc20a" stroke-width="2"/>
<circle cx="539.70" cy="197.08" r="4.10" fill="#ff9416"/>
<line x1="528" x2="551.5" y1="216.92" y2="216.92" stroke="#111111" stroke-width="2"/>
<rect x="536.25" y="213.47" width="6.90" height="6.90" fill="none" stroke="#7b8250" stroke-width="0.95"/>
<line x1="528" x2="551.5" y1="236.76" y2="236.76" stroke="#8c8c8c" stroke-width="2"/>
<circle cx="539.70" cy="236.76" r="3.40" fill="none" stroke="#909090" stroke-width="1"/>
<line x1="528" x2="551.5" y1="256.60" y2="256.60" stroke="#ff1414" stroke-width="2"/>
<path d="M536.30,253.20 L543.10,260.00 M536.30,260.00 L543.10,253.20" stroke="#cc2a3c" stroke-width="1.15" fill="none"/>
<line x1="528" x2="551.5" y1="276.44" y2="276.44" stroke="#f5802a" stroke-width="2"/>
<path d="M539.70,272.84 L543.30,276.44 L539.70,280.04 L536.10,276.44 Z" fill="none" stroke="#c99a22" stroke-width="1"/>
</svg>
<div id="title"><div class="ts" style="left:227.50px;top:-2.40px;font-size:23px;transform:scaleX(0.9740)">PACE4</div><div class="ts" style="left:299.00px;top:-2.40px;font-size:23px;transform:scaleX(0.9740)">-</div><div class="ts" style="left:312.40px;top:-7.40px;font-size:14px;transform:scaleX(0.9300)">28</div><div class="ts" style="left:325.00px;top:-2.40px;font-size:23px;transform:scaleX(0.9300)">Si</div><div class="ts" style="left:348.00px;top:-2.40px;font-size:23px;transform:scaleX(0.9850)">on</div><div class="ts" style="left:377.00px;top:-6.20px;font-size:14px;transform:scaleX(1.1200)">nat</div><div class="ts" style="left:396.00px;top:-2.40px;font-size:23px;transform:scaleX(1.0500)">Cr</div></div>
<div class="yt" style="top:237.50px">0</div>
<div class="yt" style="top:198.00px">50</div>
<div class="yt" style="top:158.50px">100</div>
<div class="yt" style="top:119.00px">150</div>
<div class="yt" style="top:79.50px">200</div>
<div class="yt" style="top:40.40px">250</div>
<div class="xt" style="left:48.50px">70</div>
<div class="xt" style="left:132.50px">75</div>
<div class="xt" style="left:216.50px">80</div>
<div class="xt" style="left:300.50px">85</div>
<div class="xt" style="left:384.50px">90</div>
<div class="xt" style="left:468.50px">95</div>
<div class="xl" id="xl">Beam Energy (MeV)</div>
<div class="yl" id="yl">Cross Section (mb)</div>
<div class="lg" style="top:50px">Kr(74) - 11.5 min</div>
<div class="lg" style="top:70px">Br(74) - 25 min</div>
<div class="lg" style="top:90px">Kr(75) - 4.6 min</div>
<div class="lg" style="top:110px">Br(75) - 97 min</div>
<div class="lg" style="top:130px">Kr(76) - 14.8 hr</div>
<div class="lg" style="top:149px">Br(76) - 16.2 hr</div>
<div class="lg" style="top:169px">Sr(77) - 9 s</div>
<div class="lg" style="top:189px">Rb(77) - 3.8 min</div>
<div class="lg" style="top:209px">Kr(77) - 74.4 min</div>
<div class="lg" style="top:229px">Br(77) - 57 hr</div>
<div class="lg" style="top:249px">Rb(78) - 17.7 min</div>
<div class="lg" style="top:269px">Kr(78) - Stable</div>
</div></body></html>
